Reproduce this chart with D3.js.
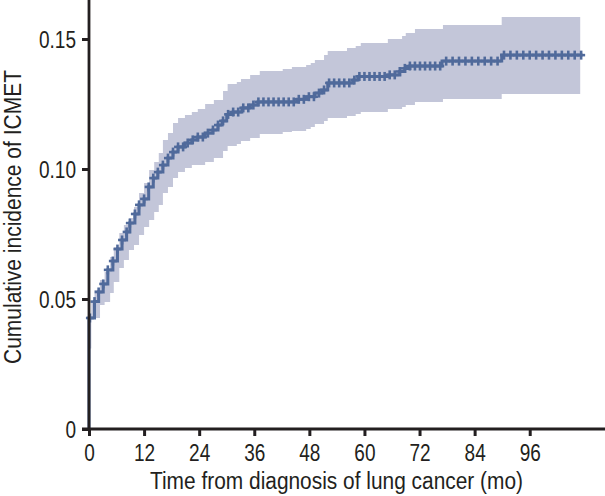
<!DOCTYPE html>
<html>
<head>
<meta charset="utf-8">
<script src="https://cdn.jsdelivr.net/npm/d3@7"></script>
<style>
  html, body { margin: 0; padding: 0; background: #fff; }
  svg { display: block; }
  text { font-family: "Liberation Sans", Arial, sans-serif; fill: #231f20; }
</style>
</head>
<body>
<svg id="chart" width="605" height="496"></svg>
<script>
// ---- Data ----
// Cumulative incidence step function: time (months) and value
const stepTimes = [0, 0, 1.2, 2.1, 3.1, 4.1, 5.2, 6.2, 7.2, 8.2, 8.9, 10.0, 10.9, 12.0, 13.0, 14.0, 15.0,
  16.1, 17.2, 18.3, 19.4, 20.9, 22.4, 23.7, 25.3, 27.0, 28.1, 29.0, 30.0, 31.4, 33.3, 35.1, 36.8,
  45.3, 47.4, 49.2, 50.7, 52.0, 57.5, 58.6, 65.1, 67.7, 68.8, 69.9, 76.9, 89.9, 107.5];
const stepValues = [0, 0.0427, 0.049, 0.0527, 0.0558, 0.0612, 0.0646, 0.0692, 0.0727, 0.0758, 0.0792, 0.0827, 0.0862, 0.0885, 0.0931, 0.0965, 0.0988,
  0.1015, 0.1042, 0.1065, 0.1085, 0.1100, 0.1112, 0.1123, 0.1138, 0.1150, 0.1169, 0.1185, 0.1210, 0.1219, 0.1235, 0.1246, 0.1258,
  0.1268, 0.1278, 0.1292, 0.1304, 0.1331, 0.1342, 0.1356, 0.1362, 0.1375, 0.1387, 0.1396, 0.1415, 0.1438, 0.1438];

// 95% confidence band (step function)
const bandTimes = [0, 0.5, 1.2, 2.4, 3.4, 4.6, 5.4, 6.6, 7.6, 8.7, 9.8, 10.9, 12.0, 13.1, 14.2, 15.2,
  16.1, 17.2, 18.3, 19.4, 20.9, 22.4, 23.7, 25.3, 27.2, 29.2, 30.2, 32.2, 33.1, 35.1, 37.2, 42.2, 44.2,
  47.3, 48.3, 49.2, 51.2, 52.0, 56.2, 58.1, 59.2, 65.1, 68.2, 69.0, 71.0, 77.1, 89.9, 107.0];
const bandLower = [0.031, 0.0427, 0.0427, 0.0477, 0.0488, 0.0523, 0.0565, 0.0619, 0.0650, 0.0688, 0.0708, 0.0746, 0.0777, 0.0804, 0.0835, 0.0862,
  0.0908, 0.0931, 0.0965, 0.0988, 0.1004, 0.1015, 0.1015, 0.1027, 0.1042, 0.1069, 0.1088, 0.1096, 0.1108, 0.1119, 0.1135, 0.1142, 0.1146,
  0.1154, 0.1162, 0.1173, 0.1185, 0.1196, 0.1204, 0.1212, 0.1219, 0.1231, 0.1238, 0.1246, 0.1258, 0.1269, 0.1288, 0.1288];
const bandUpper = [0.0427, 0.049, 0.0535, 0.0573, 0.0604, 0.0662, 0.0700, 0.0754, 0.0785, 0.0812, 0.0854, 0.0908, 0.0946, 0.0996, 0.1027, 0.1062,
  0.1112, 0.1138, 0.1177, 0.1196, 0.1208, 0.1219, 0.1231, 0.1250, 0.1265, 0.1300, 0.1327, 0.1335, 0.1346, 0.1362, 0.1377, 0.1385, 0.1392,
  0.1400, 0.1408, 0.1419, 0.1438, 0.1454, 0.1465, 0.1473, 0.1485, 0.1500, 0.1512, 0.1523, 0.1538, 0.1554, 0.1585, 0.1585];

// Censoring marks (months)
const censorTimes = [0.2, 1.2, 2.1, 3.1, 4.1, 5.2, 6.2, 7.2, 8.2, 8.9, 10.0, 10.9, 12.0, 13.0, 14.0, 15.0, 16.1, 17.2, 18.3, 19.4,
  20.5, 21.5, 22.6, 23.7, 24.8, 25.9, 27.0, 28.1, 29.2, 30.3, 31.4, 32.5, 33.6, 34.7, 35.8, 36.9, 38.0, 39.1, 40.2, 41.3,
  42.4, 43.5, 44.6, 45.7, 46.8, 47.9, 49.0, 50.1, 51.2, 52.3, 53.4, 54.5, 55.6, 56.7, 57.8, 58.9, 60.0, 61.1, 62.2, 63.3,
  64.4, 65.5, 66.6, 67.7, 68.8, 69.9, 71.0, 72.1, 73.2, 74.3, 75.4, 76.5, 77.8, 79.2, 80.6, 82.0, 83.4, 84.8, 86.2, 87.6,
  89.0, 90.4, 91.8, 93.2, 94.6, 96.0, 97.4, 98.8, 100.2, 101.6, 103.0, 104.4, 105.8, 107.2];

// Axes
const xTicks = [0, 12, 24, 36, 48, 60, 72, 84, 96];
const yTicks = [0, 0.05, 0.10, 0.15];
const yTickLabels = ["0", "0.05", "0.10", "0.15"];
const xTitle = "Time from diagnosis of lung cancer (mo)";
const yTitle = "Cumulative incidence of ICMET";

// ---- Layout ----
const svg = d3.select("#chart");
const x0 = 89, xEnd = 605, yBase = 429, yTop = 0;
const x = d3.scaleLinear().domain([0, 112.4]).range([x0, xEnd]);
const y = d3.scaleLinear().domain([0, 0.165]).range([yBase, yTop]);

const lineColor = "#506a9b";
const bandColor = "#c3c6d9";
const axisColor = "#231f20";
const fs = 23.5;
const condense = 0.81;

// narrow the glyphs (condensed typeface look)
function narrow(sel, target) {
  sel.each(function () {
    const len = this.getComputedTextLength();
    d3.select(this).attr("textLength", target || len * condense).attr("lengthAdjust", "spacingAndGlyphs");
  });
}

// Band
const band = bandTimes.map((t, i) => ({ t, lo: bandLower[i], hi: bandUpper[i] }));
svg.append("path")
  .datum(band)
  .attr("fill", bandColor)
  .attr("d", d3.area().curve(d3.curveStepAfter)
    .x(d => x(d.t)).y0(d => y(d.lo)).y1(d => y(d.hi)));

// Step line
const steps = stepTimes.map((t, i) => ({ t, v: stepValues[i] }));
svg.append("path")
  .datum(steps)
  .attr("fill", "none")
  .attr("stroke", lineColor)
  .attr("stroke-width", 3)
  .attr("d", d3.line().curve(d3.curveStepAfter).x(d => x(d.t)).y(d => y(d.v)));

function valueAt(t) {
  let v = 0;
  for (let i = 0; i < steps.length; i++) { if (steps[i].t <= t) v = steps[i].v; }
  return v;
}

// Censor marks
const marks = svg.append("g").attr("stroke", lineColor).attr("stroke-width", 2.6);
censorTimes.forEach(t => {
  const cx = x(t), cy = y(valueAt(t));
  marks.append("line").attr("x1", cx).attr("x2", cx).attr("y1", cy - 4.5).attr("y2", cy + 4.5);
  marks.append("line").attr("x1", cx - 4).attr("x2", cx + 4).attr("y1", cy).attr("y2", cy);
});

// Axes
const yAxis = svg.append("g").attr("transform", `translate(${x0},0)`)
  .call(d3.axisLeft(y).tickValues(yTicks).tickFormat((d, i) => yTickLabels[i]).tickSize(7).tickPadding(6).tickSizeOuter(0));
const xAxis = svg.append("g").attr("transform", `translate(0,${yBase})`)
  .call(d3.axisBottom(x).tickValues(xTicks).tickFormat(d => d).tickSize(7).tickPadding(8).tickSizeOuter(0));

[yAxis, xAxis].forEach(g => {
  g.selectAll(".domain").remove();
  g.selectAll(".tick line").attr("stroke", axisColor).attr("stroke-width", 3);
  g.selectAll(".tick text").attr("font-size", fs).attr("fill", axisColor)
    .style("font-family", '"Liberation Sans", Arial, sans-serif');
  narrow(g.selectAll(".tick text"));
});
yAxis.selectAll(".tick text").attr("dy", "0.36em");

// Axis lines
svg.append("line").attr("x1", x0).attr("x2", x0).attr("y1", y(0.165)).attr("y2", yBase + 1.5)
  .attr("stroke", axisColor).attr("stroke-width", 2.8);
svg.append("line").attr("x1", x0 - 7).attr("x2", xEnd).attr("y1", yBase).attr("y2", yBase)
  .attr("stroke", axisColor).attr("stroke-width", 2.8);

// Titles
const xt = svg.append("text").attr("x", 336.5).attr("y", 489).attr("text-anchor", "middle")
  .attr("font-size", fs).text(xTitle);
narrow(xt, 373);
const yt = svg.append("text").attr("transform", "translate(21,217) rotate(-90)").attr("text-anchor", "middle")
  .attr("font-size", fs).text(yTitle);
narrow(yt, 294);
</script>
</body>
</html>
